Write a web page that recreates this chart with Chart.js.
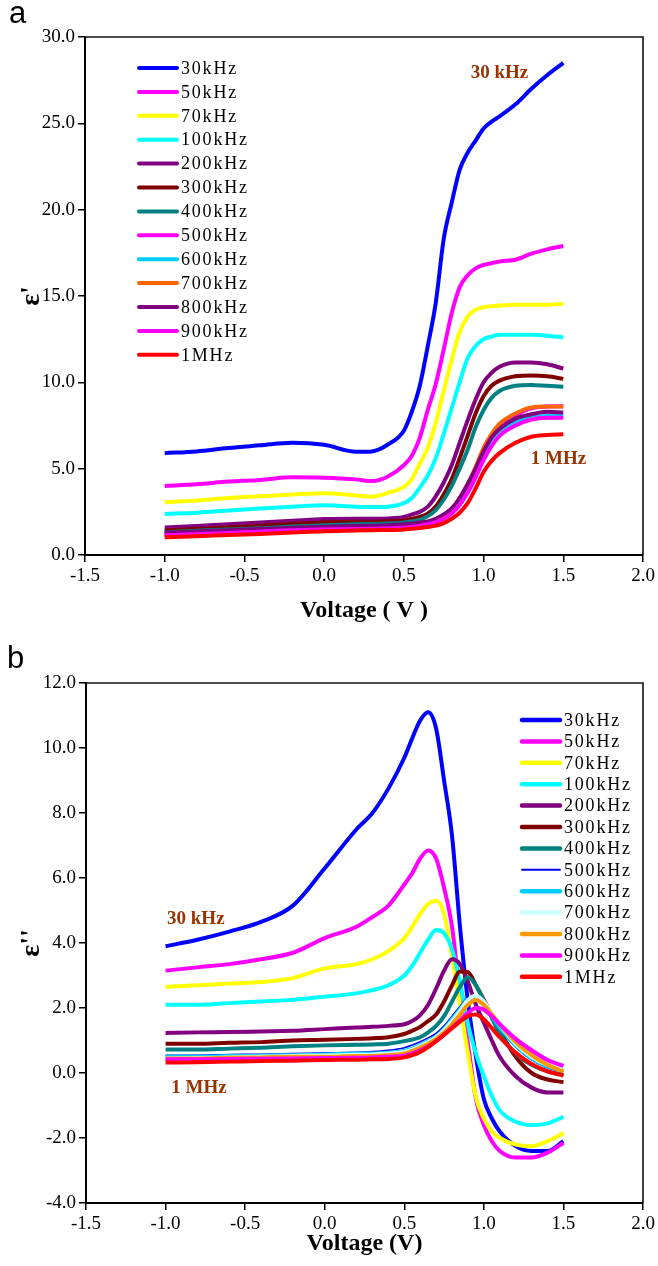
<!DOCTYPE html>
<html><head><meta charset="utf-8">
<script src="https://cdn.jsdelivr.net/npm/chart.js@4.4.0/dist/chart.umd.min.js"></script>
<style>
html,body{margin:0;padding:0;background:#fff;}
#wrap{position:relative;width:658px;height:1266px;overflow:hidden;}
canvas{position:absolute;left:0;}
.tag{position:absolute;font-family:"Liberation Sans",Arial,sans-serif;font-size:31px;line-height:30px;color:#000;z-index:2;}
</style></head><body>
<div id="wrap">
<canvas id="ca" width="658" height="633" style="top:0;width:658px;height:633px"></canvas>
<canvas id="cb" width="658" height="633" style="top:633px;width:658px;height:633px"></canvas>
<div class="tag" style="left:9px;top:-2px">a</div>
<div class="tag" style="left:7px;top:643px">b</div>
</div>
<script>
// ---------- data ----------
const voltage = [-1.0,-0.8,-0.6,-0.4,-0.2,0.0,0.2,0.3,0.4,0.5,0.55,0.6,0.65,0.7,0.75,0.8,0.85,0.9,0.95,1.0,1.05,1.1,1.2,1.3,1.4,1.5];
const freqLabelsA = ['30kHz','50kHz','70kHz','100kHz','200kHz','300kHz','400kHz','500kHz','600kHz','700kHz','800kHz','900kHz','1MHz'];
const freqLabelsB = ['30kHz','50kHz','70kHz','100kHz','200kHz','300kHz','400kHz','500kHz','600kHz','700kHz','800kHz','900kHz','1MHz'];
const xTicks = [-1.5,-1.0,-0.5,0.0,0.5,1.0,1.5,2.0];
const yTicksA = [0,5,10,15,20,25,30];
const yTicksB = [-4,-2,0,2,4,6,8,10,12];

// ε' (panel a)
const realA_30k  = [5.9,6.0,6.2,6.35,6.5,6.38,5.98,6.0,6.4,7.2,8.3,9.8,12.1,14.6,18.3,20.4,22.3,23.3,24.0,24.7,25.1,25.4,26.1,27.0,27.8,28.5];
const realA_50k  = [4.0,4.1,4.25,4.35,4.5,4.48,4.38,4.28,4.55,5.2,5.75,6.8,8.4,9.9,11.9,14.0,15.5,16.2,16.6,16.8,16.9,17.0,17.1,17.45,17.7,17.9];
const realA_70k  = [3.05,3.15,3.3,3.4,3.5,3.58,3.45,3.38,3.6,3.95,4.4,5.3,6.2,7.65,9.5,11.3,12.9,13.8,14.2,14.35,14.4,14.45,14.5,14.5,14.5,14.55];
const realA_100k = [2.38,2.45,2.58,2.7,2.8,2.88,2.8,2.78,2.8,3.0,3.3,3.9,4.6,5.6,7.0,8.5,10.0,11.4,12.1,12.5,12.65,12.75,12.75,12.75,12.7,12.6];
const realA_200k = [1.6,1.68,1.78,1.88,1.98,2.08,2.1,2.1,2.12,2.2,2.35,2.5,2.8,3.4,4.2,5.2,6.5,7.8,9.0,10.0,10.55,10.9,11.15,11.15,11.05,10.8];
const realA_300k = [1.42,1.5,1.6,1.7,1.8,1.88,1.92,1.93,1.95,2.0,2.1,2.2,2.4,2.8,3.5,4.4,5.6,6.9,8.2,9.2,9.8,10.1,10.35,10.4,10.35,10.2];
const realA_400k = [1.32,1.4,1.48,1.55,1.65,1.72,1.78,1.8,1.83,1.88,1.95,2.05,2.25,2.6,3.2,4.0,5.0,6.1,7.4,8.4,9.1,9.5,9.8,9.85,9.8,9.75];
const realA_500k = [1.2,1.25,1.33,1.4,1.48,1.55,1.58,1.6,1.63,1.68,1.73,1.8,1.9,2.05,2.3,2.6,3.2,4.0,5.0,6.1,6.9,7.5,8.1,8.5,8.6,8.62];
const realA_600k = [1.28,1.33,1.4,1.47,1.53,1.58,1.62,1.63,1.66,1.7,1.74,1.78,1.85,2.0,2.25,2.55,3.1,3.9,4.9,5.9,6.7,7.2,7.7,7.95,8.05,8.05];
const realA_700k = [1.22,1.28,1.36,1.43,1.5,1.55,1.58,1.6,1.63,1.68,1.72,1.78,1.9,2.05,2.3,2.65,3.3,4.1,5.1,6.2,7.0,7.6,8.2,8.55,8.6,8.6];
const realA_800k = [1.3,1.36,1.44,1.5,1.58,1.64,1.68,1.7,1.73,1.78,1.83,1.88,1.95,2.1,2.35,2.7,3.3,4.1,5.0,6.0,6.8,7.3,7.9,8.15,8.3,8.25];
const realA_900k = [1.15,1.2,1.28,1.35,1.43,1.48,1.5,1.52,1.54,1.58,1.62,1.68,1.78,1.9,2.1,2.4,2.9,3.6,4.5,5.5,6.3,6.9,7.5,7.85,7.95,7.95];
const realA_1M   = [1.03,1.08,1.16,1.22,1.3,1.38,1.42,1.44,1.45,1.48,1.52,1.56,1.62,1.7,1.85,2.1,2.45,3.0,3.85,4.8,5.45,5.9,6.5,6.85,6.95,7.0];

// ε'' (panel b)
const imagB_30k  = [3.9,4.1,4.35,4.65,5.15,6.3,7.5,8.0,8.75,9.7,10.3,10.85,11.1,10.6,9.0,7.3,4.5,2.2,0.5,-0.8,-1.4,-1.8,-2.25,-2.4,-2.4,-2.1];
const imagB_50k  = [3.15,3.25,3.35,3.5,3.7,4.15,4.5,4.8,5.15,5.8,6.15,6.6,6.85,6.6,5.7,4.5,2.4,0.9,-0.8,-1.6,-2.1,-2.4,-2.6,-2.6,-2.45,-2.15];
const imagB_70k  = [2.65,2.7,2.75,2.8,2.92,3.22,3.35,3.5,3.75,4.15,4.5,4.9,5.2,5.3,4.9,3.6,2.1,0.6,-0.75,-1.4,-1.8,-2.0,-2.2,-2.25,-2.1,-1.85];
const imagB_100k = [2.1,2.1,2.15,2.2,2.25,2.35,2.45,2.55,2.7,3.0,3.3,3.7,4.1,4.4,4.3,3.8,2.8,1.5,0.6,-0.1,-0.7,-1.15,-1.5,-1.6,-1.55,-1.35];
const imagB_200k = [1.23,1.25,1.26,1.28,1.3,1.35,1.4,1.42,1.45,1.5,1.6,1.78,2.1,2.6,3.15,3.5,3.35,2.8,2.1,1.55,1.0,0.5,-0.1,-0.45,-0.6,-0.6];
const imagB_300k = [0.9,0.9,0.93,0.95,1.0,1.02,1.05,1.07,1.1,1.2,1.3,1.42,1.6,1.8,2.2,2.7,3.12,3.1,2.7,2.25,1.8,1.3,0.5,0.0,-0.2,-0.28];
const imagB_400k = [0.72,0.72,0.75,0.78,0.82,0.85,0.87,0.88,0.9,0.98,1.03,1.1,1.25,1.45,1.75,2.2,2.65,2.95,2.7,2.2,1.7,1.2,0.6,0.25,0.05,-0.05];
const imagB_500k = [0.55,0.55,0.57,0.58,0.6,0.62,0.64,0.66,0.7,0.78,0.86,0.96,1.08,1.22,1.45,1.75,2.05,2.3,2.3,2.05,1.7,1.35,0.8,0.4,0.15,0.05];
const imagB_600k = [0.5,0.5,0.52,0.53,0.55,0.57,0.6,0.6,0.62,0.68,0.75,0.85,0.98,1.12,1.35,1.65,1.95,2.25,2.3,2.1,1.75,1.4,0.85,0.45,0.2,0.1];
const imagB_700k = [0.45,0.46,0.48,0.5,0.52,0.54,0.56,0.57,0.6,0.65,0.72,0.82,0.95,1.1,1.32,1.6,1.9,2.25,2.38,2.2,1.85,1.5,0.9,0.5,0.25,0.15];
const imagB_800k = [0.45,0.45,0.47,0.48,0.5,0.5,0.52,0.52,0.55,0.6,0.68,0.78,0.9,1.05,1.25,1.5,1.8,2.1,2.25,2.1,1.8,1.5,0.95,0.55,0.25,0.05];
const imagB_900k = [0.42,0.42,0.43,0.44,0.45,0.46,0.47,0.48,0.5,0.53,0.6,0.7,0.82,0.98,1.18,1.4,1.62,1.85,2.0,1.95,1.75,1.5,1.05,0.7,0.4,0.22];
const imagB_1M   = [0.32,0.33,0.35,0.37,0.38,0.4,0.41,0.42,0.43,0.48,0.55,0.65,0.8,0.98,1.18,1.38,1.58,1.75,1.8,1.65,1.38,1.1,0.62,0.28,0.05,-0.08];

const notesA = [{text:'30 kHz', x:1.1, y:27.9}, {text:'1 MHz', x:1.47, y:5.55}];
const notesB = [{text:'30 kHz', x:-0.81, y:4.75}, {text:'1 MHz', x:-0.79, y:-0.45}];

// ---------- styles ----------
const colorsA = ['#0000FF','#FF00FF','#FFFF00','#00FFFF','#800080','#800000','#008080','#FF00FF','#00CCFF','#FF6600','#800080','#FF00FF','#FF0000'];
const colorsB = ['#0000FF','#FF00FF','#FFFF00','#00FFFF','#800080','#800000','#008080','#0000FF','#00CCFF','#CCFFFF','#FF9900','#FF00FF','#FF0000'];
const widthsB = [4,4,4,4,4,4,4,1.5,4,4,4,4,4];

const seriesA = [realA_30k,realA_50k,realA_70k,realA_100k,realA_200k,realA_300k,realA_400k,realA_500k,realA_600k,realA_700k,realA_800k,realA_900k,realA_1M];
const seriesB = [imagB_30k,imagB_50k,imagB_70k,imagB_100k,imagB_200k,imagB_300k,imagB_400k,imagB_500k,imagB_600k,imagB_700k,imagB_800k,imagB_900k,imagB_1M];

const SERIF = '"Liberation Serif","Times New Roman",serif';

const frame = {
  id:'frame',
  afterDraw(chart){
    const {ctx, chartArea:a} = chart;
    ctx.save();
    ctx.strokeStyle = '#111'; ctx.lineWidth = 1.6;
    ctx.beginPath();
    ctx.moveTo(a.left, a.top); ctx.lineTo(a.right, a.top); ctx.lineTo(a.right, a.bottom);
    ctx.stroke();
    ctx.restore();
  }
};
const insideLegend = {
  id:'insideLegend',
  afterDatasetsDraw(chart, args, o){
    const ctx = chart.ctx;
    ctx.save();
    ctx.font = o.font; ctx.textBaseline = 'middle'; ctx.fillStyle = '#000';
    try { ctx.letterSpacing = o.spacing; } catch(e){}
    chart.data.datasets.forEach((ds,i)=>{
      const y = o.y + i*o.rowH;
      ctx.strokeStyle = ds.borderColor; ctx.lineWidth = ds.borderWidth < 2 ? 2 : o.lineW; ctx.lineCap = 'round';
      ctx.beginPath(); ctx.moveTo(o.x, y); ctx.lineTo(o.x + o.len, y); ctx.stroke();
      ctx.fillText(ds.label, o.x + o.len + o.gap, y + 1);
    });
    ctx.restore();
  }
};
const notes = {
  id:'notes',
  afterDatasetsDraw(chart, args, o){
    const ctx = chart.ctx, xs = chart.scales.x, ys = chart.scales.y;
    ctx.save();
    ctx.font = o.font; ctx.fillStyle = o.color; ctx.textAlign='center'; ctx.textBaseline='middle';
    o.items.forEach(n => ctx.fillText(n.text, xs.getPixelForValue(n.x), ys.getPixelForValue(n.y)));
    ctx.restore();
  }
};

function build(id, labels, series, colors, widths, yMin, yMax, yTickVals, yTitle, xTitle, lay, legend, noteItems){
  const datasets = series.map((s,i)=>({
    label: labels[i],
    data: voltage.map((v,j)=>({x:v, y:s[j]})),
    borderColor: colors[i], backgroundColor: colors[i],
    borderWidth: widths ? widths[i] : 4,
    pointRadius: 0, fill:false,
    cubicInterpolationMode:'monotone',
    order: -i
  }));
  const gridOpts = {display:true, drawOnChartArea:false, drawTicks:true, tickLength:7, color:'#000', lineWidth:1.5};
  return new Chart(document.getElementById(id), {
    type:'line',
    data:{datasets},
    plugins:[frame, insideLegend, notes],
    options:{
      responsive:false, animation:false, devicePixelRatio:1,
      layout:{padding:{left:0, right:15, top:lay.top, bottom:8}},
      plugins:{
        legend:{display:false}, tooltip:{enabled:false},
        insideLegend: legend,
        notes:{items:noteItems, font:'bold 19px '+SERIF, color:'#993300'}
      },
      scales:{
        x:{type:'linear', min:-1.5, max:2.0,
          afterBuildTicks(sc){ sc.ticks = xTicks.map(v=>({value:v})); },
          afterFit(sc){ sc.height = lay.xh; },
          ticks:{font:{family:SERIF, size:19}, color:'#000', padding:3, maxRotation:0, autoSkip:false,
                 callback:v=>Number(v).toFixed(1)},
          grid:gridOpts,
          border:{display:true, color:'#000', width:2},
          title:{display:true, text:xTitle, font:{family:SERIF, size:24, weight:'bold'}, color:'#000', padding:{top:lay.tpad, bottom:0}}
        },
        y:{type:'linear', min:yMin, max:yMax,
          afterBuildTicks(sc){ sc.ticks = yTickVals.map(v=>({value:v})); },
          afterFit(sc){ sc.width = lay.yw; },
          ticks:{font:{family:SERIF, size:19}, color:'#000', padding:3, autoSkip:false,
                 callback:v=>Number(v).toFixed(1)},
          grid:gridOpts,
          border:{display:true, color:'#000', width:2},
          title:{display:true, text:yTitle, font:{family:SERIF, size:28, weight:'bold'}, color:'#000', padding:{top:15, bottom:0}}
        }
      }
    }
  });
}

build('ca', freqLabelsA, seriesA, colorsA, null, 0, 30, yTicksA, "ε'", 'Voltage ( V )',
  {top:37, xh:70, tpad:8, yw:85},
  {x:139, y:68, rowH:23.9, len:38, gap:4, lineW:4, font:'18px '+SERIF, spacing:'1.8px'},
  notesA);
build('cb', freqLabelsB, seriesB, colorsB, widthsB, -4, 12, yTicksB, "ε''", 'Voltage (V)',
  {top:50, xh:55, tpad:4, yw:86},
  {x:522, y:87, rowH:21.4, len:38, gap:4, lineW:4.5, font:'18px '+SERIF, spacing:'1.8px'},
  notesB);
</script>
</body></html>
